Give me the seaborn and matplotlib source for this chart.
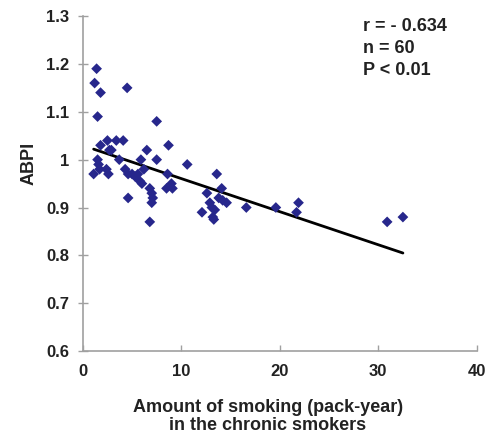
import matplotlib
matplotlib.use("Agg")
import matplotlib.pyplot as plt
import seaborn as sns
import pandas as pd

pack_years = [1.4, 1.2, 1.8, 4.5, 1.5, 7.5, 1.8, 2.5, 3.4, 4.1,
              2.7, 2.9, 8.7, 6.5, 1.5, 1.6, 1.7, 1.1, 2.4, 2.6,
              3.7, 5.9, 7.5, 4.6, 5.0, 5.3, 5.6, 5.8, 6.0, 6.8,
              7.0, 7.1, 7.0, 4.6, 6.8, 8.6, 8.5, 9.0, 9.1, 10.6,
              12.1, 12.6, 13.6, 14.1, 13.8, 14.2, 14.6, 13.1, 13.4, 13.2,
              13.3, 16.6, 19.6, 21.9, 21.7, 30.9, 32.5, 6.2, 4.3, 12.9]
abpi = [1.19, 1.16, 1.14, 1.15, 1.09, 1.08, 1.03, 1.04, 1.04, 1.04,
        1.02, 1.02, 1.03, 1.02, 1.00, 0.99, 0.98, 0.97, 0.98, 0.97,
        1.00, 1.00, 1.00, 0.97, 0.97, 0.965, 0.97, 0.955, 0.95, 0.94,
        0.93, 0.92, 0.91, 0.92, 0.87, 0.97, 0.94, 0.95, 0.94, 0.99,
        0.89, 0.93, 0.97, 0.94, 0.92, 0.915, 0.91, 0.90, 0.895, 0.88,
        0.875, 0.90, 0.90, 0.91, 0.89, 0.87, 0.88, 0.98, 0.98, 0.91]
stats_text = ["r = - 0.634", "n = 60", "P < 0.01"]
x_ticks = [0, 10, 20, 30, 40]
y_ticks = [0.6, 0.7, 0.8, 0.9, 1.0, 1.1, 1.2, 1.3]
y_tick_labels = ["0.6", "0.7", "0.8", "0.9", "1", "1.1", "1.2", "1.3"]

df = pd.DataFrame({"pack_years": pack_years, "abpi": abpi})

sns.set_style("white")
plt.rcParams["font.family"] = ["Liberation Sans", "DejaVu Sans"]
plt.rcParams["font.weight"] = "bold"

fig = plt.figure(figsize=(4.9, 4.34), dpi=100)
ax = fig.add_axes([0.169, 0.191, 0.804, 0.772])

sns.regplot(data=df, x="pack_years", y="abpi", ax=ax, ci=None, truncate=True,
            marker="D",
            scatter_kws={"s": 30, "color": "#27278c", "alpha": 1,
                         "edgecolors": "none", "zorder": 3},
            line_kws={"color": "black", "linewidth": 2, "zorder": 2})

ax.set_xlim(0, 40)
ax.set_ylim(0.6, 1.3)
ax.set_xticks(x_ticks)
ax.set_yticks(y_ticks)
ax.set_yticklabels(y_tick_labels)
ax.tick_params(axis="y", direction="inout", length=7, width=1, color="#a0a0a0",
               labelsize=12, pad=6, left=True)
ax.tick_params(axis="x", direction="in", length=4, width=1, color="#a0a0a0",
               labelsize=12, pad=9, bottom=True)
for lab in ax.get_xticklabels() + ax.get_yticklabels():
    lab.set_fontweight("bold")
    lab.set_color("#222222")

for s in ["top", "right"]:
    ax.spines[s].set_visible(False)
for s in ["left", "bottom"]:
    ax.spines[s].set_color("#a0a0a0")
    ax.spines[s].set_linewidth(1.2)

ax.set_xlabel("Amount of smoking (pack-year)\nin the chronic smokers",
              fontsize=13, fontweight="bold", color="#222222",
              linespacing=1.05)
ax.xaxis.set_label_coords(0.47, -0.143, transform=ax.transAxes)
ax.xaxis.label.set_va("top")
ax.set_ylabel("ABPI", fontsize=13, fontweight="bold", color="#222222")
ax.yaxis.set_label_coords(-0.115, 0.56, transform=ax.transAxes)

for i, t in enumerate(stats_text):
    ax.text(0.71, 0.955 - i * 0.066, t, transform=ax.transAxes, fontsize=13,
            fontweight="bold", color="#222222", va="baseline", ha="left")

fig.savefig("out.png", dpi=100)
